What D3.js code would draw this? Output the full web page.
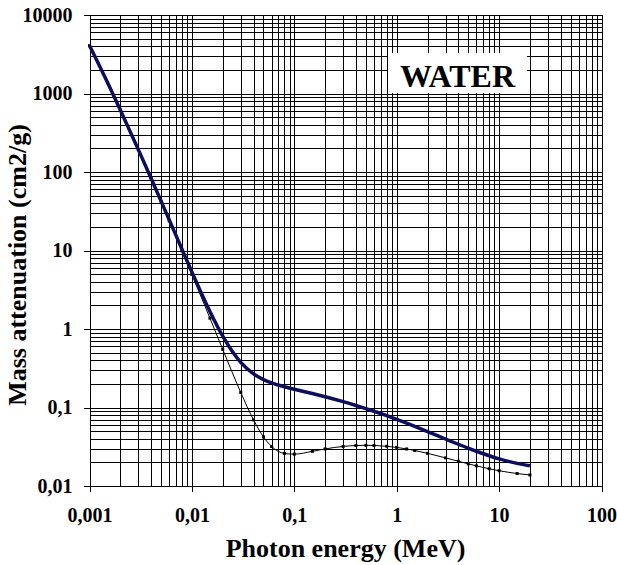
<!DOCTYPE html>
<html>
<head>
<meta charset="utf-8">
<script src="https://cdn.jsdelivr.net/npm/d3@7"></script>
<style>
  body { margin: 0; background: #fff; }
  text { font-family: "Liberation Serif", "Times New Roman", serif; font-weight: bold; }
</style>
</head>
<body>
<div id="chart"></div>
<script>
// photon energy (MeV)
var energy = [0.001, 0.0015, 0.002, 0.003, 0.004, 0.005, 0.006, 0.008, 0.01, 0.015,
  0.02, 0.03, 0.04, 0.05, 0.06, 0.08, 0.1, 0.15, 0.2, 0.3, 0.4, 0.5, 0.6, 0.8,
  1, 1.25, 1.5, 2, 3, 4, 5, 6, 8, 10, 15, 20];
// total mass attenuation (blue)
var muRho = [4078, 1376, 617.3, 192.9, 82.78, 42.58, 24.64, 10.37, 5.329, 1.673,
  0.8096, 0.3756, 0.2683, 0.2269, 0.2059, 0.1837, 0.1707, 0.1505, 0.137, 0.1186, 0.1061, 0.09687, 0.08956, 0.07865,
  0.07072, 0.06323, 0.05754, 0.04942, 0.03969, 0.03403, 0.03031, 0.0277, 0.02429, 0.02219, 0.01941, 0.01813];
// energy absorption (black)
var muenRho = [4065, 1372, 615.2, 191.7, 81.91, 41.88, 24.05, 9.915, 4.944, 1.374,
  0.5503, 0.1557, 0.06947, 0.04223, 0.0319, 0.02597, 0.02546, 0.02764, 0.02967, 0.03192, 0.03279, 0.03299, 0.03284, 0.03206,
  0.03103, 0.02965, 0.02833, 0.02608, 0.02281, 0.02066, 0.01915, 0.01806, 0.01658, 0.01566, 0.01441, 0.01382];

var xTicks = [0.001, 0.01, 0.1, 1, 10, 100];
var xTickLabels = ["0,001", "0,01", "0,1", "1", "10", "100"];
var yTicks = [0.01, 0.1, 1, 10, 100, 1000, 10000];
var yTickLabels = ["0,01", "0,1", "1", "10", "100", "1000", "10000"];

var width = 617, height = 565;
var plotLeft = 89.5, plotRight = 601.5, plotTop = 15, plotBottom = 486;

var svg = d3.select("#chart").append("svg")
  .attr("width", width)
  .attr("height", height);

var x = d3.scaleLog().domain([0.001, 100]).range([plotLeft, plotRight]);
var y = d3.scaleLog().domain([0.01, 10000]).range([plotBottom, plotTop]);

// grid values: 1..9 in every decade
function gridValues(lo, hi) {
  var out = [];
  for (var d = lo; d < hi * 1.0001; d *= 10) {
    for (var k = 1; k <= 9; k++) {
      var v = d * k;
      if (v <= hi * 1.0001) out.push(v);
    }
  }
  return out;
}

var grid = svg.append("g").attr("shape-rendering", "crispEdges");

grid.selectAll(".vx")
  .data(gridValues(0.001, 100))
  .enter()
  .append("line")
  .attr("x1", function(d) { return Math.round(x(d)) + 0.5; })
  .attr("x2", function(d) { return Math.round(x(d)) + 0.5; })
  .attr("y1", plotTop)
  .attr("y2", plotBottom)
  .attr("stroke", "#000")
  .attr("stroke-width", 1);

grid.selectAll(".hy")
  .data(gridValues(0.01, 10000))
  .enter()
  .append("line")
  .attr("y1", function(d) { return Math.round(y(d)) + 0.5; })
  .attr("y2", function(d) { return Math.round(y(d)) + 0.5; })
  .attr("x1", plotLeft)
  .attr("x2", plotRight)
  .attr("stroke", "#000")
  .attr("stroke-width", 1);

// axes
var xAxis = d3.axisBottom(x)
  .tickValues(xTicks)
  .tickFormat(function(d, i) { return xTickLabels[i]; })
  .tickSize(6)
  .tickPadding(16);

var yAxis = d3.axisLeft(y)
  .tickValues(yTicks)
  .tickFormat(function(d, i) { return yTickLabels[i]; })
  .tickSize(6)
  .tickPadding(11);

var gx = svg.append("g")
  .attr("transform", "translate(0," + plotBottom + ")")
  .call(xAxis);
var gy = svg.append("g")
  .attr("transform", "translate(" + plotLeft + ",0)")
  .call(yAxis);

[gx, gy].forEach(function(g) {
  g.select(".domain").remove();
  g.selectAll(".tick line").attr("stroke", "#000").attr("shape-rendering", "crispEdges");
  g.selectAll(".tick text")
    .attr("fill", "#000")
    .attr("font-size", 20)
    .attr("font-family", "Liberation Serif, Times New Roman, serif")
    .attr("font-weight", "bold");
});

// WATER label box
svg.append("rect")
  .attr("x", 388)
  .attr("y", 53)
  .attr("width", 139)
  .attr("height", 40)
  .attr("fill", "#fff");
svg.append("text")
  .attr("x", 457.5)
  .attr("y", 87)
  .attr("text-anchor", "middle")
  .attr("font-size", 32)
  .text("WATER");

// curves
var line = d3.line()
  .x(function(d) { return x(d[0]); })
  .y(function(d) { return y(d[1]); })
  .curve(d3.curveMonotoneX);

var absData = energy.map(function(e, i) { return [e, muenRho[i]]; });
var totData = energy.map(function(e, i) { return [e, muRho[i]]; });

svg.append("path")
  .datum(absData)
  .attr("d", line)
  .attr("fill", "none")
  .attr("stroke", "#000")
  .attr("stroke-width", 1);

svg.selectAll(".mk")
  .data(absData)
  .enter()
  .append("rect")
  .attr("x", function(d) { return x(d[0]) - 1.5; })
  .attr("y", function(d) { return y(d[1]) - 1.5; })
  .attr("width", 3)
  .attr("height", 3)
  .attr("fill", "#000");

svg.append("path")
  .datum(totData)
  .attr("d", line)
  .attr("fill", "none")
  .attr("stroke", "#0d0d5e")
  .attr("stroke-width", 3.5)
  .attr("stroke-linejoin", "round");

// axis titles
svg.append("text")
  .attr("x", (plotLeft + plotRight) / 2)
  .attr("y", 557)
  .attr("text-anchor", "middle")
  .attr("font-size", 26)
  .text("Photon energy (MeV)");

svg.append("text")
  .attr("transform", "translate(26," + 265 + ") rotate(-90)")
  .attr("text-anchor", "middle")
  .attr("font-size", 26)
  .text("Mass attenuation (cm2/g)");
</script>
</body>
</html>
